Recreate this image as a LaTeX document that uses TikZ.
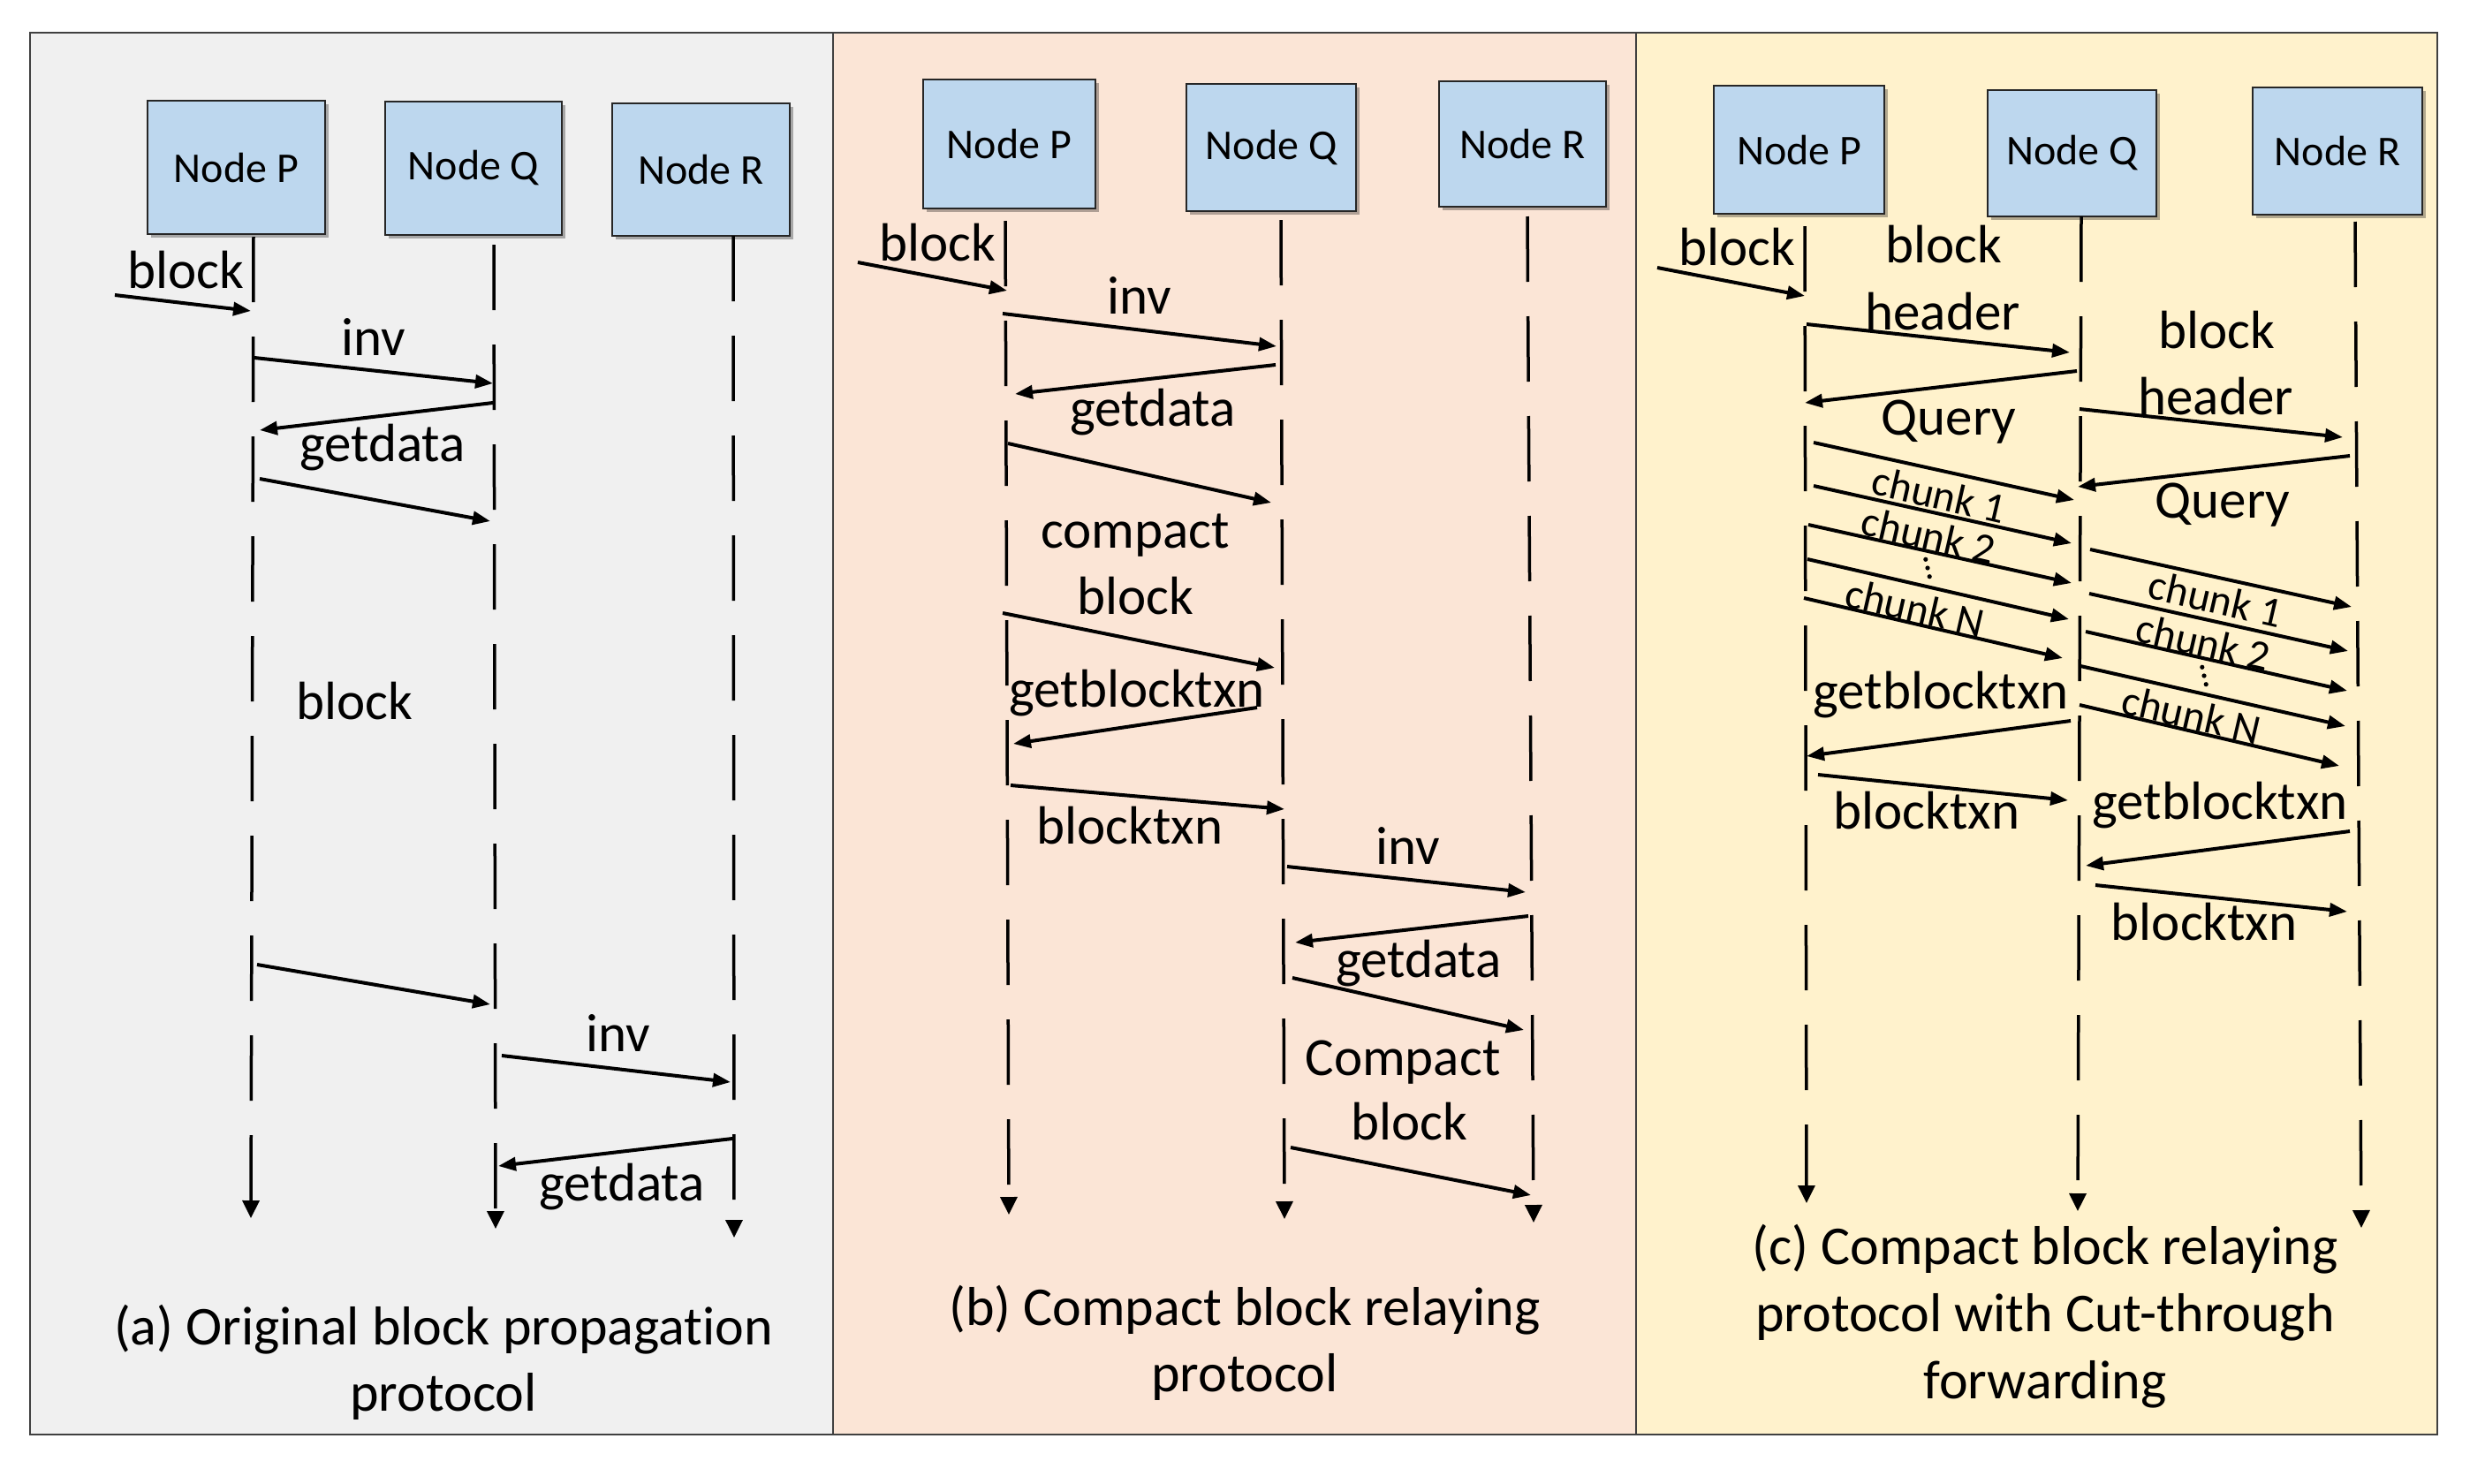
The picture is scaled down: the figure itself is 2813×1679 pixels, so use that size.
\documentclass[tikz,border=0pt]{standalone}
\usepackage{fontspec}
\setmainfont[Ligatures={NoCommon}]{Carlito}
\usetikzlibrary{arrows.meta,shadows}
\definecolor{panela}{HTML}{F0F0F0}
\definecolor{panelb}{HTML}{FBE5D6}
\definecolor{panelc}{HTML}{FFF2CC}
\definecolor{boxblue}{HTML}{BDD7EE}
\newcommand{\msgline}[3]{\coordinate (#1s) at (#2); \coordinate (#1e) at (#3); \draw[msg] (#1s) -- (#1e);}
\newcommand{\lifeln}[3]{\coordinate (#1t) at (#2); \coordinate (#1b) at (#3); \draw[life] (#1t) -- (#1b);}
\begin{document}
\begin{tikzpicture}[x=1pt,y=-1pt,
  nodebox/.style={draw=black!85, line width=1.8pt, fill=boxblue, inner sep=0pt,
    font=\fontsize{48}{58}\selectfont,
    drop shadow={shadow xshift=4pt, shadow yshift=-4pt, opacity=0.3, fill=black}},
  life/.style={line width=3.5pt, dash pattern=on 74pt off 39pt, -{Triangle[length=20pt,width=19pt]}},
  msg/.style={line width=4pt, -{Triangle[length=20pt,width=15pt]}},
  lbl/.style={font=\fontsize{61}{74}\selectfont, inner sep=0pt, anchor=base},
  chunklbl/.style={font=\fontsize{48}{58}\selectfont, inner sep=0pt, rotate=-13},
  captxt/.style={font=\fontsize{62}{75}\selectfont, inner sep=0pt, anchor=base},
  panel/.style={draw=black!75, line width=2pt}]
\useasboundingbox (0,0) rectangle (2813,1679);
\fill[white] (0,0) rectangle (2813,1679);
% panels
\filldraw[panel, fill=panela] (34,37) rectangle (943,1624);
\filldraw[panel, fill=panelb] (943,37) rectangle (1852,1624);
\filldraw[panel, fill=panelc] (1852,37) rectangle (2759,1624);

% ================= panel (a) =================
\node[nodebox, minimum width=201pt, minimum height=151pt] (aP) at (267.5,189.5) {Node P};
\node[nodebox, minimum width=200pt, minimum height=151pt] (aQ) at (536,190.5) {Node Q};
\node[nodebox, minimum width=201pt, minimum height=150pt] (aR) at (793.5,192) {Node R};
\lifeln{aPl}{287,268}{284,1379}
\lifeln{aQl}{559,277}{561,1391}
\lifeln{aRl}{830,267}{831,1401}

\msgline{a1}{130,334}{284,352}
\node[lbl] (a1l) at (210,326) {block};
\msgline{a2}{288,405}{558,434}
\node[lbl] (a2l) at (423,402) {inv};
\msgline{a3}{558,456}{294,487}
\node[lbl] (a3l) at (433,522) {getdata};
\msgline{a4}{294,542}{555,590}
\node[lbl] (a5l) at (401,814) {block};
\msgline{a6}{291,1092}{555,1137}
\msgline{a7}{568,1195}{827,1225}
\node[lbl] (a7l) at (700,1190) {inv};
\msgline{a8}{829,1289}{564,1320}
\node[lbl] (a8l) at (704,1359) {getdata};
\node[captxt] (capa1) at (502,1522) {(a) Original block propagation};
\node[captxt] (capa2) at (502,1597) {protocol};

% ================= panel (b) =================
\node[nodebox, minimum width=195pt, minimum height=146pt] (bP) at (1142.5,163) {Node P};
\node[nodebox, minimum width=192pt, minimum height=144pt] (bQ) at (1439,167) {Node Q};
\node[nodebox, minimum width=189pt, minimum height=142pt] (bR) at (1723.5,163) {Node R};
\lifeln{bPl}{1138,250}{1142,1375}
\lifeln{bQl}{1450,249}{1454,1380}
\lifeln{bRl}{1729,245}{1736,1384}

\msgline{b1}{971,297}{1140,329}
\node[lbl] (b1l) at (1061,295) {block};
\msgline{b2}{1135,355}{1445,392}
\node[lbl] (b2l) at (1290,355) {inv};
\msgline{b3}{1444,413}{1149,446}
\node[lbl] (b3l) at (1305,482) {getdata};
\msgline{b4}{1141,502}{1439,569}
\node[lbl] (b5l) at (1285,620) {compact};
\node[lbl] (b5m) at (1285,695) {block};
\msgline{b6}{1135,694}{1443,756}
\msgline{b7}{1423,801}{1147,842}
\node[lbl] (b7l) at (1287,800) {getblocktxn};
\msgline{b8}{1144,889}{1454,916}
\node[lbl] (b8l) at (1279,955) {blocktxn};
\msgline{b9}{1457,981}{1727,1010}
\node[lbl] (b9l) at (1594,978) {inv};
\msgline{b10}{1730,1037}{1466,1067}
\node[lbl] (b10l) at (1606,1106) {getdata};
\msgline{b11}{1463,1107}{1725,1166}
\node[lbl] (b12l) at (1588,1217) {Compact};
\node[lbl] (b12m) at (1595,1290) {block};
\msgline{b13}{1461,1299}{1733,1353}
\node[captxt] (capb1) at (1409,1500) {(b) Compact block relaying};
\node[captxt] (capb2) at (1409,1575) {protocol};

% ================= panel (c) =================
\node[nodebox, minimum width=193pt, minimum height=145pt] (cP) at (2036.5,169.5) {Node P};
\node[nodebox, minimum width=191pt, minimum height=143pt] (cQ) at (2345.5,173.5) {Node Q};
\node[nodebox, minimum width=192pt, minimum height=144pt] (cR) at (2646,171) {Node R};
\lifeln{cPl}{2043,256}{2045,1362}
\lifeln{cQl}{2356,245}{2352,1371}
\lifeln{cRl}{2666,251}{2673,1390}

\msgline{c1}{1876,303}{2043,335}
\node[lbl] (c1l) at (1966,300) {block};
\msgline{c2}{2045,367}{2343,399}
\node[lbl] (c2l) at (2200,297) {block};
\node[lbl] (c2m) at (2199,373) {header};
\msgline{c3}{2351,420}{2043,456}
\node[lbl] (c3l) at (2206,492) {Query};
\msgline{c4}{2354,463}{2652,495}
\node[lbl] (c4l) at (2509,394) {block};
\node[lbl] (c4m) at (2508,469) {header};
\msgline{c5}{2660,516}{2352,551}
\node[lbl] (c5l) at (2516,586) {Query};

% chunks P -> Q
\msgline{c6}{2053,501}{2348,566}
\msgline{c7}{2053,550}{2345,615}
\msgline{c8}{2047,594}{2345,660}
\msgline{c9}{2046,633}{2342,701}
\msgline{c10}{2042,677}{2335,745}
\node[chunklbl] (c6l) at (2195,560) {chunk 1};
\node[chunklbl] (c7l) at (2183,606) {chunk 2};
\fill (2179.8,633.3) circle (2.6pt) (2182,643) circle (2.6pt) (2184.2,652.7) circle (2.6pt);
\node[chunklbl] (c9l) at (2168,688) {chunk N};

% chunks Q -> R
\msgline{c11}{2366,622}{2662,687}
\msgline{c12}{2365,672}{2658,737}
\msgline{c13}{2361,715}{2657,782}
\msgline{c14}{2355,754}{2655,822}
\msgline{c15}{2354,798}{2648,867}
\node[chunklbl] (c11l) at (2508,678) {chunk 1};
\node[chunklbl] (c12l) at (2494,727) {chunk 2};
\fill (2492.8,755.3) circle (2.6pt) (2495,765) circle (2.6pt) (2497.2,774.7) circle (2.6pt);
\node[chunklbl] (c14l) at (2481,809) {chunk N};

\msgline{c16}{2344,816}{2045,856}
\node[lbl] (c16l) at (2197,802) {getblocktxn};
\msgline{c17}{2058,877}{2341,906}
\node[lbl] (c17l) at (2181,938) {blocktxn};
\msgline{c18}{2660,941}{2361,980}
\node[lbl] (c18l) at (2513,927) {getblocktxn};
\msgline{c19}{2372,1002}{2657,1032}
\node[lbl] (c19l) at (2495,1064) {blocktxn};
\node[captxt] (capc1) at (2315,1431) {(c) Compact block relaying};
\node[captxt] (capc2) at (2315,1507) {protocol with Cut-through};
\node[captxt] (capc3) at (2315,1583) {forwarding};
\end{tikzpicture}
\end{document}
